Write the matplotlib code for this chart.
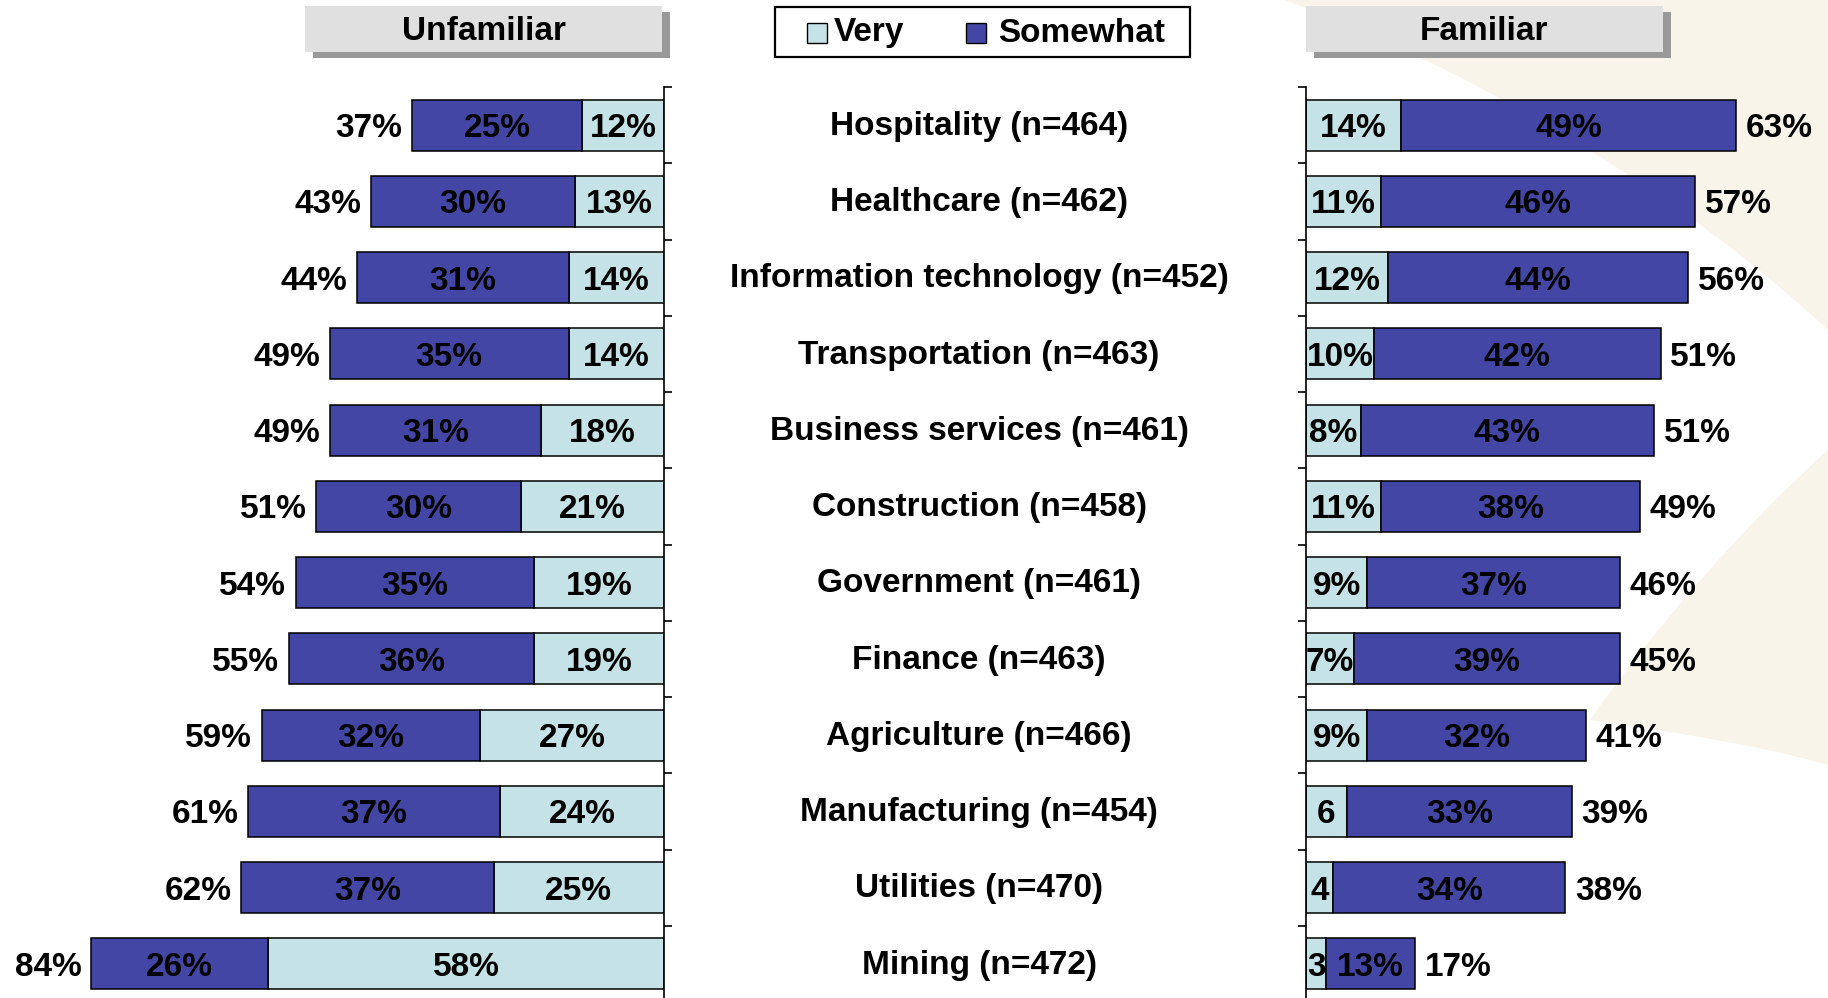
import numpy as np
import matplotlib
matplotlib.use("Agg")
import matplotlib.pyplot as plt
from matplotlib.patches import Rectangle, PathPatch
from matplotlib.path import Path
from matplotlib.transforms import blended_transform_factory

plt.rcParams['font.family'] = ['Liberation Sans', 'DejaVu Sans']
plt.rcParams['font.weight'] = 'bold'

categories = ["Hospitality (n=464)", "Healthcare (n=462)",
              "Information technology (n=452)", "Transportation (n=463)",
              "Business services (n=461)", "Construction (n=458)",
              "Government (n=461)", "Finance (n=463)", "Agriculture (n=466)",
              "Manufacturing (n=454)", "Utilities (n=470)", "Mining (n=472)"]

unfam_somewhat = [25, 30, 31, 35, 31, 30, 35, 36, 32, 37, 37, 26]
unfam_very = [12, 13, 14, 14, 18, 21, 19, 19, 27, 24, 25, 58]
unfam_total = [37, 43, 44, 49, 49, 51, 54, 55, 59, 61, 62, 84]

fam_very = [14, 11, 12, 10, 8, 11, 9, 7, 9, 6, 4, 3]
fam_somewhat = [49, 46, 44, 42, 43, 38, 37, 39, 32, 33, 34, 13]
fam_total = [63, 57, 56, 51, 51, 49, 46, 45, 41, 39, 38, 17]

series_names = ["Very", "Somewhat"]
panel_titles = ["Unfamiliar", "Familiar"]

VERY_C = "#C5E3E6"
SOME_C = "#4346A5"
W, H = 1828, 998
FS = 24

fig = plt.figure(figsize=(W / 100, H / 100), dpi=100)
fig.patch.set_facecolor("white")


def fx(x):
    return x / W


def fy(y):
    return 1 - y / H


# faint beige swoosh of the slide template (top right)
beige = "#F8F4E9"
up = [(1285, 0), (1828, 0), (1828, 330), (1700, 210), (1500, 80), (1285, 0)]
up_codes = [Path.MOVETO, Path.LINETO, Path.LINETO, Path.CURVE4, Path.CURVE4, Path.CURVE4]
low = [(1590, 720), (1660, 620), (1750, 520), (1828, 450), (1828, 765),
       (1760, 745), (1660, 730), (1590, 720)]
low_codes = [Path.MOVETO, Path.CURVE4, Path.CURVE4, Path.CURVE4, Path.LINETO,
             Path.CURVE4, Path.CURVE4, Path.CURVE4]
for pts, codes in [(up, up_codes), (low, low_codes)]:
    p = Path([(fx(a), fy(b)) for a, b in pts], codes)
    fig.add_artist(PathPatch(p, facecolor=beige, edgecolor="none",
                             transform=fig.transFigure, zorder=0))

px_per_pct = 6.82
ax_top, ax_bot = 87, 1002
axL = fig.add_axes([0, fy(ax_bot), fx(664), (ax_bot - ax_top) / H])
axR = fig.add_axes([fx(1306), fy(ax_bot), fx(W - 1306), (ax_bot - ax_top) / H])

y = np.arange(len(categories))
bh = 0.67
dy = 0.045  # nudge text down so glyphs sit centred in the bars

panels = [(axL, unfam_very, unfam_somewhat, unfam_total, 664 / px_per_pct, -1),
          (axR, fam_very, fam_somewhat, fam_total, (W - 1306) / px_per_pct, 1)]

for ax, very, some, total, xmax, sign in panels:
    ax.set_facecolor("none")
    very = np.array(very)
    some = np.array(some)
    ax.barh(y, very, height=bh, color=VERY_C, edgecolor="black", linewidth=1.1,
            label=series_names[0])
    ax.barh(y, some, left=very, height=bh, color=SOME_C, edgecolor="black",
            linewidth=1.1, label=series_names[1])
    for i in range(len(y)):
        v = very[i]
        ax.text(v / 2, y[i] + dy, f"{v}%" if v >= 7 else f"{v}", ha="center",
                va="center", fontsize=FS, fontweight="bold", color="black")
        ax.text(v + some[i] / 2, y[i] + dy, f"{some[i]}%", ha="center", va="center",
                fontsize=FS, fontweight="bold", color="black")
        ax.annotate(f"{total[i]}%", (v + some[i], y[i] + dy), xytext=(7 * sign, 0),
                    textcoords="offset points", ha="left" if sign > 0 else "right",
                    va="center", fontsize=FS, fontweight="bold", color="black")
    ax.set_ylim(len(y) - 0.5, -0.5)
    if sign < 0:
        ax.set_xlim(xmax, 0)
    else:
        ax.set_xlim(0, xmax)
    ax.set_xticks([])
    ax.set_yticks(np.arange(-0.5, len(y), 1))
    ax.set_yticklabels([])
    for s in ["top", "bottom", "left", "right"]:
        ax.spines[s].set_visible(False)
    side = "right" if sign < 0 else "left"
    ax.spines[side].set_visible(True)
    ax.spines[side].set_linewidth(1.2)
    ax.yaxis.set_ticks_position(side)
    ax.tick_params(axis="y", direction="out", length=6, width=1.2)

# category labels in the middle
tr = blended_transform_factory(fig.transFigure, axL.transData)
for i, c in enumerate(categories):
    axL.text(fx(979), y[i] + 0.015, c, transform=tr, ha="center", va="center",
             fontsize=FS, fontweight="bold", color="black", clip_on=False)

# panel header boxes with shadow
for (x0, x1), title in zip([(305, 662), (1306, 1663)], panel_titles):
    fig.add_artist(Rectangle((fx(x0 + 8), fy(58)), fx(x1 - x0), (58 - 12) / H,
                             facecolor="#999999", edgecolor="none",
                             transform=fig.transFigure, zorder=1))
    fig.add_artist(Rectangle((fx(x0), fy(52)), fx(x1 - x0), (52 - 6) / H,
                             facecolor="#E0E0E0", edgecolor="none",
                             transform=fig.transFigure, zorder=2))
    fig.text(fx((x0 + x1) / 2), fy(32), title, ha="center", va="center",
             fontsize=FS, fontweight="bold", color="black", zorder=3)

# legend box
fig.add_artist(Rectangle((fx(775), fy(57)), fx(1190 - 775), 50 / H, facecolor="white",
                         edgecolor="black", linewidth=1.6, transform=fig.transFigure,
                         zorder=2))
for mx, tx, col, name in [(807, 834, VERY_C, series_names[0]),
                          (966, 998, SOME_C, series_names[1])]:
    fig.add_artist(Rectangle((fx(mx), fy(43)), fx(20), 20 / H, facecolor=col,
                             edgecolor="black", linewidth=1.0,
                             transform=fig.transFigure, zorder=3))
    fig.text(fx(tx), fy(33), name, ha="left", va="center", fontsize=FS,
             fontweight="bold", color="black", zorder=4)

fig.savefig("out.png", dpi=100, facecolor=fig.get_facecolor())
